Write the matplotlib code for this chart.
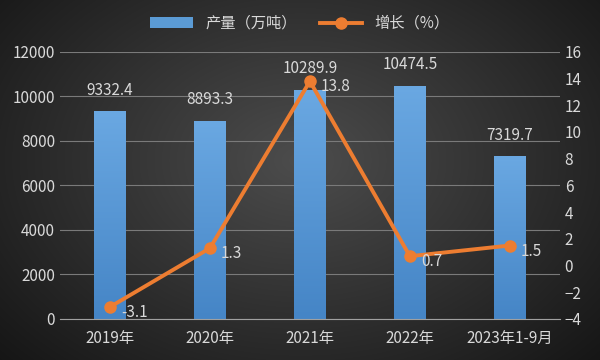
import matplotlib
matplotlib.use('Agg')
import matplotlib.pyplot as plt
import numpy as np

plt.rcParams['font.family'] = ['Noto Sans CJK SC', 'DejaVu Sans']

# data
years = ['2019年', '2020年', '2021年', '2022年', '2023年1-9月']
output = [9332.4, 8893.3, 10289.9, 10474.5, 7319.7]
growth = [-3.1, 1.3, 13.8, 0.7, 1.5]

txt = '#d9d9d9'
fs = 11
fig = plt.figure(figsize=(6, 3.6), dpi=100)

# dark radial background
bg = fig.add_axes([0, 0, 1, 1], zorder=-10)
yy, xx = np.mgrid[0:360, 0:600]
r = np.sqrt(((xx - 300) / 420.0) ** 2 + ((yy - 160) / 300.0) ** 2)
shade = np.clip(0.30 - 0.22 * r, 0.08, 0.32)
bg.imshow(np.dstack([shade] * 3), aspect='auto', extent=[0, 1, 0, 1])
bg.axis('off')

ax = fig.add_axes([0.1, 0.114, 0.833, 0.742])
ax.patch.set_alpha(0)
x = np.arange(len(years))
bars = ax.bar(x, output, width=0.32, color='#5b9bd5', zorder=2, label='产量（万吨）')
# vertical shading inside the bars, lighter at top
grad = np.linspace(0, 1, 256).reshape(-1, 1)
cmap = matplotlib.colors.LinearSegmentedColormap.from_list('b', ['#4585c6', '#6aa8e2'])
for b in bars:
    im = ax.imshow(grad, cmap=cmap, aspect='auto', origin='lower', zorder=2.1,
                   extent=[b.get_x(), b.get_x() + b.get_width(), 0, b.get_height()])
    im.set_clip_path(b)
ax.set_xlim(-0.5, 4.5)
ax.set_ylim(0, 12000)
ax.set_yticks(range(0, 12001, 2000))
ax.grid(axis='y', color='#7a7a7a', linewidth=0.8, zorder=0)
for s in ['top', 'right', 'left']:
    ax.spines[s].set_visible(False)
ax.spines['bottom'].set_color('#a0a0a0')
ax.tick_params(length=0, colors=txt, labelsize=fs)
ax.set_xticks(x)
ax.set_xticklabels(years)
ax.tick_params(axis='x', pad=8)
for xi, v in zip(x, output):
    ax.annotate(f'{v:.1f}', (xi, v), xytext=(0, 9), textcoords='offset points',
                ha='center', va='bottom', color=txt, fontsize=fs)

ax2 = ax.twinx()
ax2.plot(x, growth, color='#ed7d31', linewidth=2.8, marker='o', markersize=8,
         zorder=3, label='增长（%）')
ax2.set_ylim(-4, 16)
ax2.set_yticks(range(-4, 17, 2))
for s in ['top', 'right', 'left', 'bottom']:
    ax2.spines[s].set_visible(False)
ax2.tick_params(length=0, colors=txt, labelsize=fs)
for xi, v in zip(x, growth):
    ax2.annotate(f'{v}', (xi, v), xytext=(8, -4), textcoords='offset points',
                 ha='left', va='center', color=txt, fontsize=fs)

h1, l1 = ax.get_legend_handles_labels()
h2, l2 = ax2.get_legend_handles_labels()
fig.legend(h1 + h2, l1 + l2, loc='center', bbox_to_anchor=(0.5, 0.935), ncol=2,
           frameon=False, fontsize=fs, labelcolor=txt, handlelength=2.8,
           columnspacing=1.5)

fig.savefig('out.png', dpi=100)
